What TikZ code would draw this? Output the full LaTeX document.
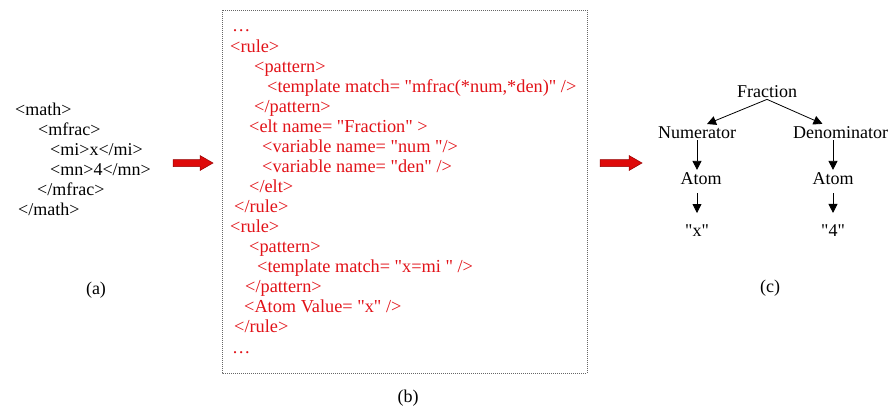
\documentclass[tikz,border=0pt]{standalone}
\usepackage{fontspec}
\setmainfont{Liberation Serif}[Ligatures=TeXOff]
\usetikzlibrary{arrows.meta}
\definecolor{codered}{RGB}{226,18,24}
\definecolor{arrowred}{RGB}{222,10,10}
\definecolor{arrowedge}{RGB}{150,0,0}
\tikzset{
  txt/.style={anchor=base west, inner sep=0pt, font=\fontsize{18}{20}\selectfont},
  code/.style={txt, text=codered, font=\fontsize{18.3}{20}\selectfont},
  captxt/.style={anchor=base, inner sep=0pt, font=\fontsize{18}{20}\selectfont},
  tnode/.style={anchor=base, inner sep=2pt, font=\fontsize{18}{20}\selectfont},
  tarr/.style={line width=0.8pt, -{Triangle[width=9pt,length=9pt]}},
  blockarrow/.style={fill=arrowred, draw=arrowedge, line width=0.5pt},
  framebox/.style={draw=black!60, line width=0.8pt, dash pattern=on 1pt off 1pt}
}
\begin{document}
\begin{tikzpicture}[x=1pt,y=-1pt]
\useasboundingbox (0,0) rectangle (893,407);
\fill[white] (0,0) rectangle (893,407);

% (a) MathML input
\node[txt] (m1) at (15,115) {<math>};
\node[txt] (m2) at (38,135) {<mfrac>};
\node[txt] (m3) at (50,155) {<mi>x</mi>};
\node[txt] (m4) at (50,175) {<mn>4</mn>};
\node[txt] (m5) at (37,195) {</mfrac>};
\node[txt] (m6) at (18,215) {</math>};
\node[captxt] (capa) at (96,294) {(a)};

% block arrows
\draw[blockarrow] (173,159.5) -- (200,159.5) -- (200,155.5) -- (213,163) -- (200,170.5) -- (200,166.5) -- (173,166.5) -- cycle;
\draw[blockarrow] (600,159.5) -- (629,159.5) -- (629,155.5) -- (642,163) -- (629,170.5) -- (629,166.5) -- (600,166.5) -- cycle;

% (b) rules box
\draw[framebox] (222,10) rectangle (587,373);
\node[code] (b0) at (232,31) {…};
\node[code] (b1) at (230,52) {<rule>};
\node[code] (b2) at (254,72) {<pattern>};
\node[code] (b3) at (267,92) {<template match= "mfrac(*num,*den)" />};
\node[code] (b4) at (254,112) {</pattern>};
\node[code] (b5) at (249,132) {<elt name= "Fraction" >};
\node[code] (b6) at (262,152) {<variable name= "num "/>};
\node[code] (b7) at (262,172) {<variable name= "den" />};
\node[code] (b8) at (249,192) {</elt>};
\node[code] (b9) at (234,212) {</rule>};
\node[code] (b10) at (230,232) {<rule>};
\node[code] (b11) at (249,252) {<pattern>};
\node[code] (b12) at (257,272) {<template match= "x=mi " />};
\node[code] (b13) at (245,292) {</pattern>};
\node[code] (b14) at (244,312) {<Atom Value= "x" />};
\node[code] (b15) at (234,332) {</rule>};
\node[code] (b16) at (232,353) {…};
\node[captxt] (capb) at (408,402) {(b)};

% (c) tree
\node[tnode] (frac) at (767,97) {Fraction};
\node[tnode] (num) at (697,138) {Numerator};
\node[tnode] (den) at (840.5,138) {Denominator};
\node[tnode] (atomL) at (701,184) {Atom};
\node[tnode] (atomR) at (833,184) {Atom};
\node[tnode] (valL) at (697,236) {"x"};
\node[tnode] (valR) at (833,236) {"4"};
\draw[tarr] (frac.south) -- ([xshift=10pt]num.north);
\draw[tarr] (frac.south) -- ([xshift=-18pt]den.north);
\draw[tarr] (num.south) -- (num.south |- atomL.north);
\draw[tarr] ([xshift=-7.5pt]den.south) -- (atomR.north);
\draw[tarr, shorten <=7pt, shorten >=9pt] (atomL.south -| valL.north) -- (valL.north);
\draw[tarr, shorten <=7pt, shorten >=9pt] (atomR.south) -- (valR.north);
\node[captxt] (capc) at (770,292) {(c)};
\end{tikzpicture}
\end{document}
